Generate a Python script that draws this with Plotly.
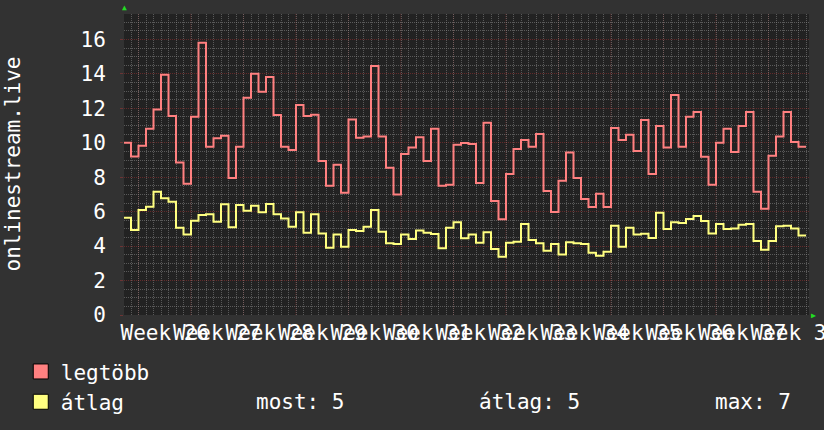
import plotly.graph_objects as go

# one value per day, day 0 = first day of week 26
days = list(range(-2, 89))

legtobb = [10.0, 9.2, 9.83, 10.82, 11.94, 13.95, 11.56, 8.85, 7.62,
           11.52, 15.81, 9.77, 10.26, 10.41, 7.96, 9.77,
           12.62, 14.01, 12.97, 13.82, 11.61, 9.77, 9.58,
           12.19, 11.56, 11.63, 8.94, 7.51, 8.73, 7.1,
           11.36, 10.3, 10.36, 14.46, 10.36, 8.55, 7.0,
           9.35, 9.72, 10.32, 8.94, 10.82, 7.51, 7.57,
           9.89, 9.99, 9.93, 7.67, 11.17, 6.62, 5.56,
           8.19, 9.64, 10.16, 9.77, 10.51, 7.2, 5.98,
           7.8, 9.43, 7.96, 6.74, 6.27, 7.04, 6.27,
           10.86, 10.16, 10.47, 9.52, 11.32, 8.19, 10.98,
           9.72, 12.78, 9.77, 11.52, 11.79, 9.19, 7.57,
           10.01, 10.82, 9.47, 10.98, 11.79, 7.16, 6.17,
           9.25, 10.36, 11.79, 10.05, 9.77]

atlag = [5.65, 4.94, 6.1, 6.29, 7.16, 6.78, 6.58, 5.07, 4.68,
         5.48, 5.81, 5.85, 5.42, 6.43, 5.09, 6.39,
         6.06, 6.35, 5.96, 6.45, 5.85, 5.61, 5.13,
         5.96, 4.78, 5.85, 4.74, 3.91, 4.68, 3.97,
         4.94, 4.88, 5.13, 6.1, 4.84, 4.16, 4.12,
         4.68, 4.41, 4.9, 4.78, 4.7, 3.87, 5.07,
         5.38, 4.45, 4.68, 4.2, 4.8, 3.83, 3.39,
         4.2, 4.26, 5.28, 4.36, 4.16, 3.73, 4.12,
         3.52, 4.22, 4.16, 4.12, 3.62, 3.44, 3.68,
         5.19, 3.97, 5.07, 4.68, 4.72, 4.47, 5.94,
         4.99, 5.38, 5.34, 5.57, 5.75, 5.46, 4.74,
         5.28, 4.99, 5.03, 5.24, 5.28, 4.3, 3.79,
         4.3, 5.15, 5.19, 5.03, 4.61]

week_starts = [0, 7, 14, 21, 28, 35, 42, 49, 56, 63, 70, 77, 84]
week_labels = ["Week 26", "Week 27", "Week 28", "Week 29", "Week 30",
               "Week 31", "Week 32", "Week 33", "Week 34", "Week 35",
               "Week 36", "Week 37", "Week 38"]

summary = [("most", 5), ("átlag", 5), ("max", 7)]

RED = "#FF8080"
YELLOW = "#FFFF80"
FONT = "DejaVu Sans Mono"
FS = 21
MAJOR = "rgba(200,55,55,0.38)"
MINOR = "rgba(135,135,135,0.55)"
DOTS = "1px,1px"

# step lines need a closing point at the end of the last day
x_step = days + [days[-1] + 1]

fig = go.Figure()

for vals, color in [(legtobb, RED), (atlag, YELLOW)]:
    fig.add_trace(go.Scatter(
        x=x_step, y=vals + [vals[-1]],
        mode="lines",
        line=dict(color=color, width=2, shape="hv"),
        showlegend=False, hoverinfo="skip"
    ))

# legend boxes
for name, color in [("legtöbb", RED), ("átlag", YELLOW)]:
    fig.add_trace(go.Scatter(
        x=[None], y=[None], mode="markers", name=name,
        marker=dict(symbol="square", size=15, color=color,
                    line=dict(color="black", width=1)),
    ))

# week boundaries: major grid
for w in week_starts:
    fig.add_vline(x=w, line=dict(color=MAJOR, width=1, dash=DOTS), layer="below")

xr = [-1.933, 89.4]

fig.update_layout(
    width=824, height=430, autosize=False,
    margin=dict(l=124, r=15, t=14, b=115, autoexpand=False),
    paper_bgcolor="#323232",
    plot_bgcolor="#222222",
    font=dict(family=FONT, size=FS, color="white"),
    xaxis=dict(
        range=xr,
        tickmode="array",
        tickvals=[w + 3.5 for w in week_starts],
        ticktext=week_labels,
        tickangle=0,
        ticklabeloverflow="allow",
        ticks="",
        ticklabelstandoff=3,
        automargin=False,
        showgrid=False, zeroline=False,
        minor=dict(tickmode="linear", tick0=0, dtick=1, showgrid=True,
                   gridcolor=MINOR, griddash=DOTS, gridwidth=1),
    ),
    yaxis=dict(
        range=[0, 17.48],
        tickmode="linear", tick0=0, dtick=2,
        ticks="outside", ticklen=3, tickcolor=MAJOR,
        ticklabelstandoff=10,
        automargin=False,
        showgrid=True, gridcolor=MAJOR, griddash=DOTS, gridwidth=1,
        zeroline=False,
        minor=dict(tickmode="linear", tick0=0, dtick=0.5, showgrid=True,
                   gridcolor=MINOR, griddash=DOTS, gridwidth=1),
    ),
    legend=dict(
        xref="container", yref="container",
        x=0.0252, y=0.183, xanchor="left", yanchor="top",
        bgcolor="rgba(0,0,0,0)", font=dict(family=FONT, size=FS, color="white"),
        traceorder="normal", itemclick=False,
    ),
)

# vertical axis label
fig.add_annotation(
    x=-0.1635, y=0.5, xref="paper", yref="paper", showarrow=False,
    text="onlinestream.live", textangle=-90,
    xanchor="center", yanchor="middle",
    font=dict(family=FONT, size=FS, color="white"),
)

# GPRINT values on the second legend row
for (label, val), xp in zip(summary, [0.1905, 0.5153, 0.860]):
    fig.add_annotation(
        x=xp, y=-0.289, xref="paper", yref="paper",
        xanchor="left", yanchor="middle", showarrow=False,
        text=f"{label}: {val}",
        font=dict(family=FONT, size=FS, color="white"),
    )

# rrdtool style axis arrows
fig.add_annotation(x=0, y=1, xref="paper", yref="paper", showarrow=False,
                   xanchor="center", yanchor="bottom",
                   text="▲", font=dict(size=8, color="#22DD22"))
fig.add_annotation(x=1, y=0, xref="paper", yref="paper", showarrow=False,
                   xanchor="left", yanchor="middle",
                   text="▶", font=dict(size=8, color="#22DD22"))

fig.write_html("out.html", config={"displayModeBar": False},
               post_script="document.body.style.margin='0px';")
